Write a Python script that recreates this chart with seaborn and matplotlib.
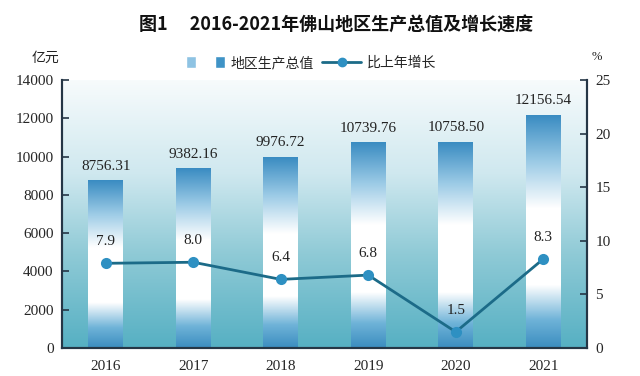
import numpy as np
import matplotlib
matplotlib.use('Agg')
import matplotlib.pyplot as plt
import seaborn as sns
from matplotlib.colors import LinearSegmentedColormap
from matplotlib.patches import Patch
from matplotlib.lines import Line2D
from matplotlib.legend_handler import HandlerTuple

years = ['2016', '2017', '2018', '2019', '2020', '2021']
gdp = [8756.31, 9382.16, 9976.72, 10739.76, 10758.50, 12156.54]
growth = [7.9, 8.0, 6.4, 6.8, 1.5, 8.3]
gdp_labels = ['8756.31', '9382.16', '9976.72', '10739.76', '10758.50', '12156.54']
growth_labels = ['7.9', '8.0', '6.4', '6.8', '1.5', '8.3']

sns.set_style('white')
plt.rcParams['font.family'] = ['Liberation Serif', 'Noto Sans CJK SC']
CJK = ['Noto Sans CJK SC', 'DejaVu Sans']

spine_c = '#253646'
line_c = '#1c6b88'
marker_c = '#2e90c2'

fig = plt.figure(figsize=(6.4, 3.76), dpi=100)
ax = fig.add_axes([62 / 640, 1 - 348 / 376, 525 / 640, 268 / 376])

# background gradient of the plot area
bg_cmap = LinearSegmentedColormap.from_list(
    'bg', [(0, '#56b0c3'), (0.35, '#8fcad6'), (0.65, '#cfe8ef'), (1, '#f7fbfc')])
ramp = np.linspace(1, 0, 256).reshape(-1, 1)
ax.imshow(ramp, extent=[-0.5, 5.5, 0, 14000], aspect='auto', cmap=bg_cmap, zorder=0)

sns.barplot(x=years, y=gdp, ax=ax, width=0.4, color='#3a8fc4', zorder=2)

bar_cmap = LinearSegmentedColormap.from_list(
    'bar', [(0, '#3b8dc0'), (0.12, '#6fb3d8'), (0.27, '#ffffff'), (0.6, '#ffffff'),
            (0.8, '#9ccbe6'), (1, '#3a8cc2')])
for i, p in enumerate(ax.patches):
    x0, w, h = p.get_x(), p.get_width(), p.get_height()
    ax.imshow(ramp, extent=[x0, x0 + w, 0, h], aspect='auto', cmap=bar_cmap, zorder=2)
    p.set_visible(False)
    ax.text(x0 + w / 2, h + 750, gdp_labels[i], ha='center', va='center',
            fontsize=11, color='#222222')

ax.set_xlim(-0.5, 5.5)
ax.set_ylim(0, 14000)
ax.set_yticks(range(0, 14001, 2000))
ax.set_xticks(range(6))
ax.set_xticklabels(years)
ax.set_xticks(np.arange(0.5, 5, 1), minor=True)
ax.tick_params(axis='x', which='major', length=0, pad=9, labelsize=11)
ax.tick_params(axis='x', which='minor', direction='in', length=6, width=1.2, color=spine_c)
ax.tick_params(axis='y', direction='in', length=5, width=1.2, color=spine_c, labelsize=11, pad=6)
ax.set_xlabel('')
ax.set_ylabel('')

ax2 = ax.twinx()
sns.pointplot(x=years, y=growth, ax=ax2, color=line_c, markers='o', markersize=6.5,
              linewidth=2, errorbar=None, zorder=5)
for ln in ax2.lines:
    ln.set_markerfacecolor(marker_c)
    ln.set_markeredgecolor(marker_c)
for i, v in enumerate(growth):
    ax2.text(i, v + 2.0, growth_labels[i], ha='center', va='center', fontsize=11,
             color='#222222')
ax2.set_xlim(-0.5, 5.5)
ax2.set_ylim(0, 25)
ax2.set_yticks(range(0, 26, 5))
ax2.tick_params(axis='y', direction='in', length=5, width=1.2, color=spine_c, labelsize=11, pad=6)
ax2.set_ylabel('')

for a in (ax, ax2):
    a.spines['top'].set_visible(False)
    for s in ('left', 'right', 'bottom'):
        a.spines[s].set_color(spine_c)
        a.spines[s].set_linewidth(1.5)

fig.text(336 / 640, 1 - 25 / 376, '图1\u3000 2016-2021年佛山地区生产总值及增长速度',
         ha='center', va='center', fontsize=13, fontweight='bold', family=CJK,
         color='#111111')
fig.text(45 / 640, 1 - 58 / 376, '亿元', ha='center', va='center', fontsize=10,
         family=CJK, color='#222222')
fig.text(597 / 640, 1 - 57 / 376, '%', ha='center', va='center', fontsize=9,
         color='#222222')

bar_handle = (Patch(facecolor='#8ec3e3'), Patch(facecolor='#3f93c6'))
line_handle = Line2D([], [], color=line_c, lw=2, marker='o', markersize=6,
                     markerfacecolor=marker_c, markeredgecolor=marker_c)
fig.legend([bar_handle, line_handle], ['地区生产总值', '比上年增长'],
           handler_map={tuple: HandlerTuple(ndivide=None, pad=1.4)},
           loc='center', bbox_to_anchor=(311 / 640, 1 - 63 / 376), ncol=2,
           frameon=False, prop={'family': CJK, 'size': 10}, handlelength=2.8,
           handleheight=1.0, handletextpad=0.4, columnspacing=0.6)

fig.savefig('out.png', dpi=100)
